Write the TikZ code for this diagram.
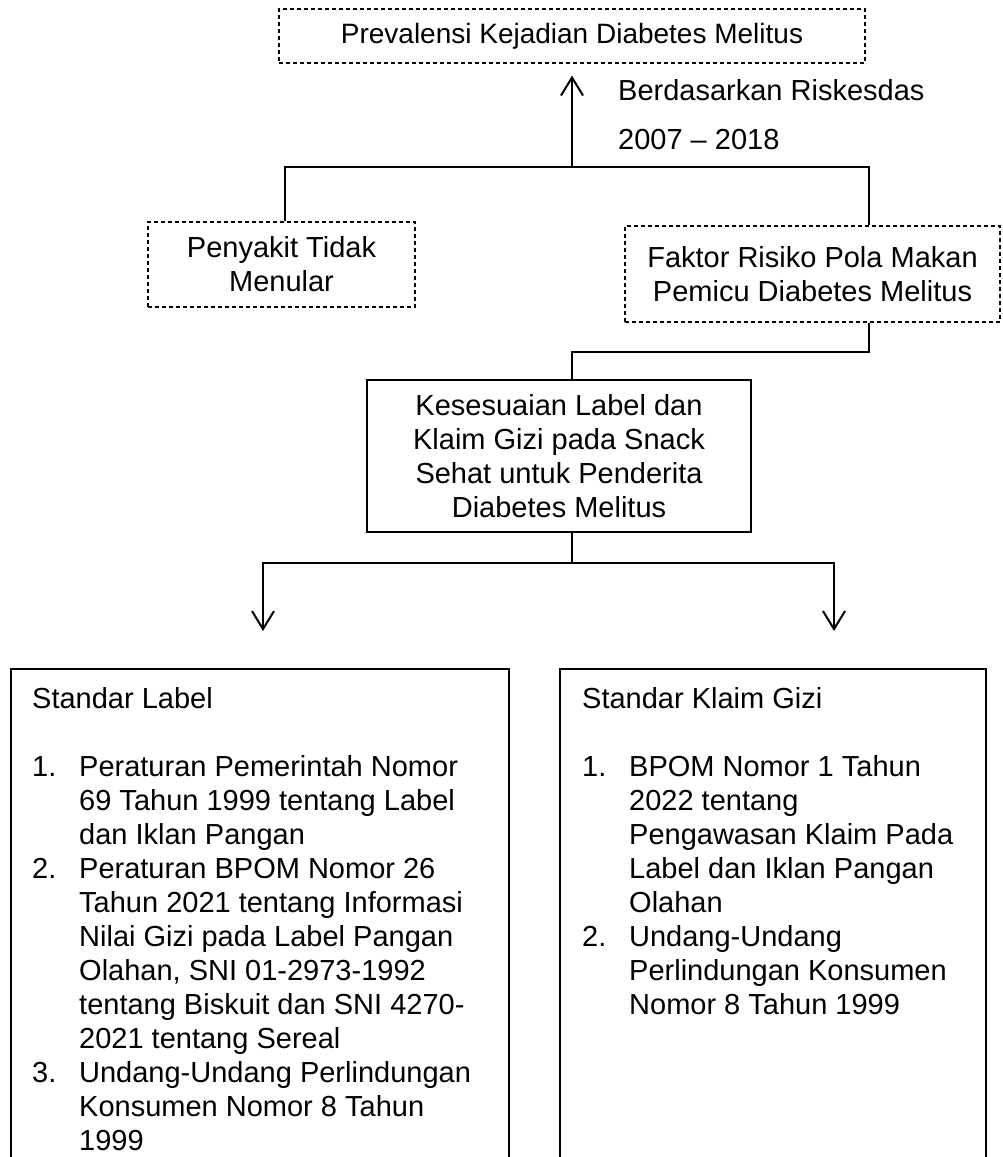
\documentclass[tikz,border=0pt]{standalone}
\usepackage{fontspec}
\setmainfont{Liberation Sans}
\usetikzlibrary{arrows.meta}
\begin{document}
\begin{tikzpicture}[x=1pt,y=-1pt,
  every node/.style={font=\fontsize{29}{34}\selectfont, inner sep=0pt},
  dbox/.style={draw, dash pattern=on 4pt off 3pt, line width=1.2pt, align=center},
  sbox/.style={draw, line width=1.2pt, align=center},
  conn/.style={line width=2pt},
  arr/.style={line width=2pt, -{Straight Barb[length=18pt,width=22pt,line width=2pt]}},
  frame/.style={line width=1.2pt}
]
\useasboundingbox (0,0) rectangle (1002,1157);
\fill[white] (0,0) rectangle (1002,1157);

% boxes
\node[dbox, minimum width=586pt, minimum height=54pt, font=\fontsize{28}{34}\selectfont] (prev) at (572,36) {Prevalensi Kejadian Diabetes Melitus};
\node[anchor=west] (berd) at (618,90) {Berdasarkan Riskesdas};
\node[anchor=west] (year) at (618,140) {2007 – 2018};
\node[dbox, minimum width=267pt, minimum height=85pt] (ptm) at (281.5,264.5) {Penyakit Tidak\\Menular};
\node[dbox, minimum width=375pt, minimum height=96pt] (frp) at (812.5,274) {Faktor Risiko Pola Makan\\Pemicu Diabetes Melitus};
\node[sbox, minimum width=384pt, minimum height=152pt] (kes) at (559,456) {Kesesuaian Label dan\\Klaim Gizi pada Snack\\Sehat untuk Penderita\\Diabetes Melitus};

% connectors
\coordinate (j1) at (572,167);
\coordinate (jl) at (285,167);
\coordinate (jr) at (869,167);
\draw[arr, shorten >=12pt] (j1) -- (prev.south -| j1);
\draw[conn] (ptm.north -| jl) -- (jl) -- (jr) -- (frp.north -| jr);

\coordinate (k1) at (869,352);
\coordinate (k2) at (572,352);
\draw[conn] (frp.south -| k1) -- (k1) -- (k2) -- (kes.north -| k2);

\coordinate (m1) at (572,563);
\coordinate (ml) at (263,563);
\coordinate (mr) at (834,563);
\coordinate (al) at (263,631);
\coordinate (ar) at (834,631);
\draw[conn] (kes.south -| m1) -- (m1);
\draw[arr] (m1) -- (ml) -- (al);
\draw[arr] (m1) -- (mr) -- (ar);

% bottom frames (open at the bottom edge)
\draw[frame] (11,1157) -- (11,669) -- (509,669) -- (509,1157);
\draw[frame] (560,1157) -- (560,669) -- (986,669) -- (986,1157);

\node[anchor=north west] (stdlabel) at (32,684) {\begin{tabular}{@{}p{47pt}@{}l@{}}
\multicolumn{2}{@{}l@{}}{Standar Label}\\
 & \\
1. & Peraturan Pemerintah Nomor\\
 & 69 Tahun 1999 tentang Label\\
 & dan Iklan Pangan\\
2. & Peraturan BPOM Nomor 26\\
 & Tahun 2021 tentang Informasi\\
 & Nilai Gizi pada Label Pangan\\
 & Olahan, SNI 01-2973-1992\\
 & tentang Biskuit dan SNI 4270-\\
 & 2021 tentang Sereal\\
3. & Undang-Undang Perlindungan\\
 & Konsumen Nomor 8 Tahun\\
 & 1999
\end{tabular}};

\node[anchor=north west] (stdklaim) at (582,684) {\begin{tabular}{@{}p{47pt}@{}l@{}}
\multicolumn{2}{@{}l@{}}{Standar Klaim Gizi}\\
 & \\
1. & BPOM Nomor 1 Tahun\\
 & 2022 tentang\\
 & Pengawasan Klaim Pada\\
 & Label dan Iklan Pangan\\
 & Olahan\\
2. & Undang-Undang\\
 & Perlindungan Konsumen\\
 & Nomor 8 Tahun 1999
\end{tabular}};
\end{tikzpicture}
\end{document}
